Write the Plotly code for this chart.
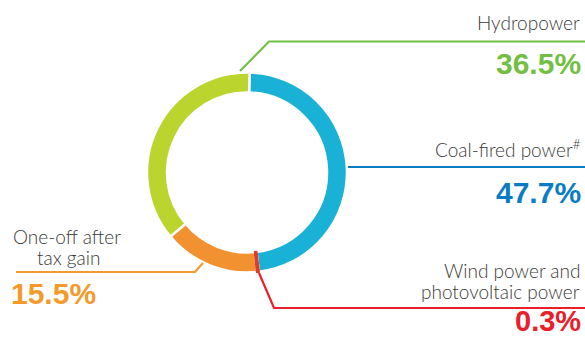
import plotly.graph_objects as go

labels = ["Coal-fired power", "Wind power and photovoltaic power", "One-off after tax gain", "Hydropower"]
values = [47.7, 0.3, 15.5, 36.5]
slice_colors = ["#19b2d6", "#dd3b2c", "#f1912f", "#bcd42e"]
pct_text = ["47.7%", "0.3%", "15.5%", "36.5%"]
line_colors = ["#0a7cc4", "#e8202a", "#f39a2b", "#72bf44"]

W, H = 585, 338

def px(x):
    return x / W

def py(y):
    return 1 - y / H

dom = dict(x=[px(147), px(347)], y=[py(272.5), py(72.5)])
fig = go.Figure()
fig.add_trace(go.Pie(
    labels=labels, values=values, sort=False, direction="clockwise", rotation=1.5,
    hole=0.8, textinfo="none", hoverinfo="label+percent",
    marker=dict(colors=slice_colors, line=dict(color="white", width=2.5)),
    domain=dom, showlegend=False,
))
# overlay so the very thin slice stays visible between the white gaps
tr = "rgba(0,0,0,0)"
fig.add_trace(go.Pie(
    labels=labels, values=values, sort=False, direction="clockwise", rotation=1.5,
    hole=0.8, textinfo="none", hoverinfo="skip",
    marker=dict(colors=[tr, slice_colors[1], tr, tr],
                line=dict(color=[tr, slice_colors[1], tr, tr], width=2.4)),
    domain=dom, showlegend=False,
))

shapes = []
def seg(pts, color):
    path = "M " + " L ".join(f"{px(x)},{py(y)}" for x, y in pts)
    shapes.append(dict(type="path", path=path, xref="paper", yref="paper",
                       line=dict(color=color, width=2.2)))

seg([(240, 71), (269, 41.5), (585, 41.5)], line_colors[3])
seg([(348, 167), (585, 167)], line_colors[0])
seg([(259, 273), (274, 308), (585, 308)], line_colors[1])
seg([(203, 263), (195, 272), (16, 272)], line_colors[2])

FONT = "Lato, Liberation Sans, Arial, sans-serif"
PFONT = "Liberation Sans, Arial, sans-serif"
label_color = "#3a3a3a"
ann = []
def txt(x, y, s, size, color, anchor, bold=False):
    ann.append(dict(x=px(x), y=py(y), xref="paper", yref="paper", text=(f"<b>{s}</b>" if bold else s),
                    showarrow=False, xanchor=anchor, yanchor="middle",
                    font=dict(family=PFONT if bold else FONT, size=size, color=color,
                              weight=None if bold else 300)))

txt(582, 22, "Hydropower", 19, label_color, "right")
txt(583, 64, pct_text[3], 30, line_colors[3], "right", True)
txt(583, 149, "Coal-fired power<sup>#</sup>", 19, label_color, "right")
txt(583, 192, pct_text[0], 30, line_colors[0], "right", True)
txt(582, 270, "Wind power and", 19, label_color, "right")
txt(582, 291, "photovoltaic power", 19, label_color, "right")
txt(583, 321, pct_text[1], 29, line_colors[1], "right", True)
txt(11, 236, "One-off after", 19, label_color, "left")
txt(35, 257, "tax gain", 19, label_color, "left")
txt(9, 293, pct_text[2], 30, line_colors[2], "left", True)

fig.update_layout(width=W, height=H, margin=dict(l=0, r=0, t=0, b=0),
                  paper_bgcolor="white", plot_bgcolor="white",
                  shapes=shapes, annotations=ann)
fig.write_html("out.html")
